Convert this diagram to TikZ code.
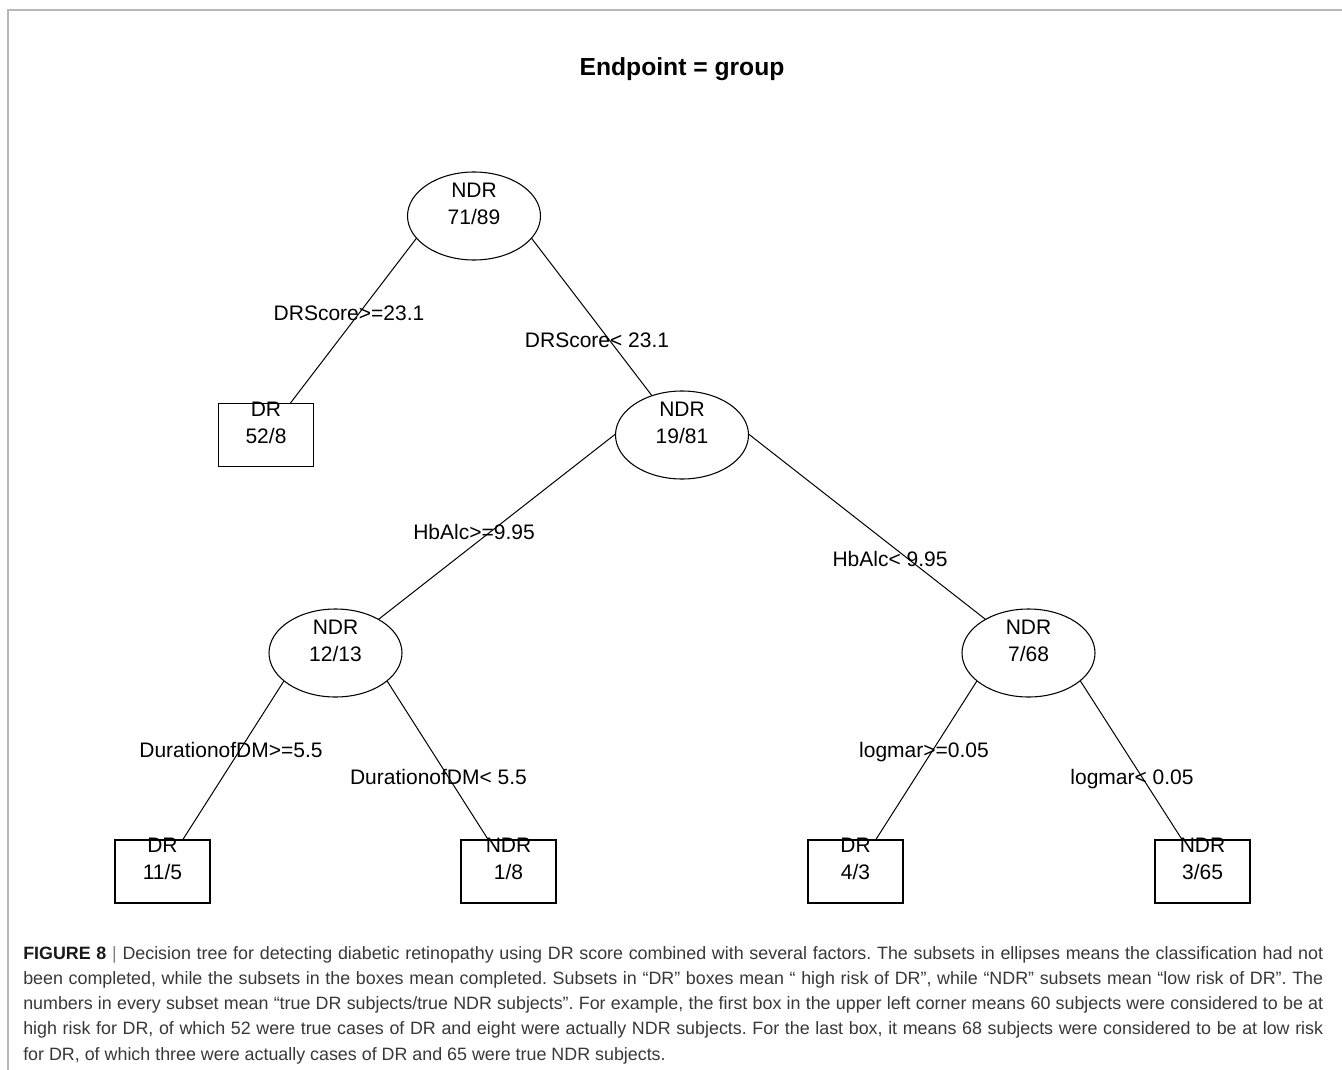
\documentclass[tikz,border=0pt]{standalone}
\usepackage{fontspec}
\setmainfont{Liberation Sans}
\usetikzlibrary{shapes.geometric,backgrounds}
\definecolor{capgray}{rgb}{0.22,0.22,0.22}
\definecolor{framegray}{rgb}{0.72,0.72,0.72}
\newcommand{\capline}[1]{\makebox[\linewidth][s]{#1}}
\tikzset{
  split/.style={draw,ellipse,fill=white,minimum width=99.75pt,minimum height=66pt,inner sep=0pt,line width=0.8pt},
  leaf/.style={draw,rectangle,fill=white,minimum width=71.25pt,minimum height=47.25pt,inner sep=0pt,line width=0.8pt},
  nodetext/.style={align=center,font=\fontsize{15.75}{20.25}\selectfont,text depth=0pt,inner sep=0pt},
  cond/.style={anchor=base,font=\fontsize{15.75}{18}\selectfont,inner sep=0pt},
  branch/.style={line width=0.75pt,shorten <=#1}
}
\begin{document}
\begin{tikzpicture}[x=0.75pt,y=-0.75pt]
  \useasboundingbox (0,0) rectangle (1342,1070);
  \draw [framegray,line width=1.1pt] (8,1070) -- (8,10) -- (1342,10);

  \node [anchor=base,font=\fontsize{18.5}{22}\selectfont\bfseries] (title) at (682,76) {Endpoint = group};

  % splits
  \node [split] (root) at (474,216) {};
  \node [nodetext] (root-t) at (474,203.5) {NDR\\71/89};
  \node [split] (hba) at (682,435) {};
  \node [nodetext] (hba-t) at (682,422.5) {NDR\\19/81};
  \node [split] (dur) at (335.5,653) {};
  \node [nodetext] (dur-t) at (335.5,640.5) {NDR\\12/13};
  \node [split] (lgm) at (1028.5,653) {};
  \node [nodetext] (lgm-t) at (1028.5,640.5) {NDR\\7/68};

  % leaves
  \node [leaf] (dr1) at (266,435) {};
  \node [nodetext] (dr1-t) at (266,422.5) {DR\\52/8};
  \node [leaf] (dr2) at (162.5,871.5) {};
  \node [nodetext] (dr2-t) at (162.5,859) {DR\\11/5};
  \node [leaf] (ndr1) at (508.5,871.5) {};
  \node [nodetext] (ndr1-t) at (508.5,859) {NDR\\1/8};
  \node [leaf] (dr3) at (855.5,871.5) {};
  \node [nodetext] (dr3-t) at (855.5,859) {DR\\4/3};
  \node [leaf] (ndr2) at (1202.5,871.5) {};
  \node [nodetext] (ndr2-t) at (1202.5,859) {NDR\\3/65};

  % branches
  \begin{scope}[on background layer]
    \draw [branch=70.95pt] ([yshift=39.75pt]root.center) -- (dr1.center);
    \draw [branch=70.95pt] ([yshift=39.75pt]root.center) -- (hba.center);
    \draw [branch=63.3pt] ([yshift=39.75pt]hba.center) -- (dur.center);
    \draw [branch=63.3pt] ([yshift=39.75pt]hba.center) -- (lgm.center);
    \draw [branch=71.9pt] ([yshift=39.75pt]dur.center) -- (dr2.center);
    \draw [branch=71.9pt] ([yshift=39.75pt]dur.center) -- (ndr1.center);
    \draw [branch=71.9pt] ([yshift=39.75pt]lgm.center) -- (dr3.center);
    \draw [branch=71.9pt] ([yshift=39.75pt]lgm.center) -- (ndr2.center);
  \end{scope}

  % split rules
  \node [cond] (c1) at (349,320) {DRScore>=23.1};
  \node [cond] (c2) at (597,347) {DRScore< 23.1};
  \node [cond] (c3) at (474,539) {HbAlc>=9.95};
  \node [cond] (c4) at (890,566) {HbAlc< 9.95};
  \node [cond] (c5) at (231,757) {DurationofDM>=5.5};
  \node [cond] (c6) at (438.5,784) {DurationofDM< 5.5};
  \node [cond] (c7) at (924,757) {logmar>=0.05};
  \node [cond] (c8) at (1132,784) {logmar< 0.05};

  \node [anchor=base west,inner sep=0pt,text=capgray] (caption) at (23,959) {%
    \begin{minipage}[t]{975pt}
      \fontsize{13.4}{18.94}\selectfont\frenchspacing
      \capline{{\color{black!90}\textbf{FIGURE 8}} {\color{gray}|} Decision tree for detecting diabetic retinopathy using DR score combined with several factors. The subsets in ellipses means the classification had not}\\
      \capline{been completed, while the subsets in the boxes mean completed. Subsets in “DR” boxes mean “ high risk of DR”, while “NDR” subsets mean “low risk of DR”. The}\\
      \capline{numbers in every subset mean “true DR subjects/true NDR subjects”. For example, the first box in the upper left corner means 60 subjects were considered to be at}\\
      \capline{high risk for DR, of which 52 were true cases of DR and eight were actually NDR subjects. For the last box, it means 68 subjects were considered to be at low risk}\\
      for DR, of which three were actually cases of DR and 65 were true NDR subjects.
    \end{minipage}};
\end{tikzpicture}
\end{document}
